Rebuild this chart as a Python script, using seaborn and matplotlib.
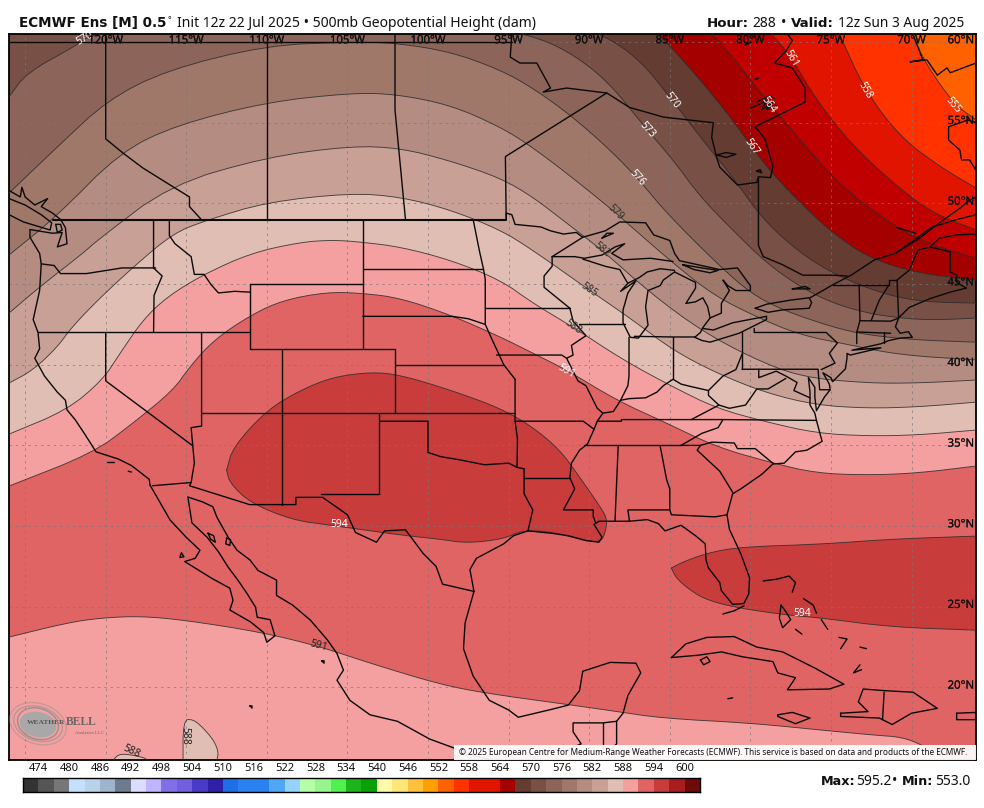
import numpy as np
import matplotlib
matplotlib.use("Agg")
import matplotlib.pyplot as plt
import matplotlib.patheffects as pe
from matplotlib.colors import ListedColormap
from matplotlib.patches import Ellipse, Rectangle
import seaborn as sns

# colour bar: one cell per 3 dam, 471 to 603
bar_levels = list(range(471, 603, 3))
bar_colors = ["#333333", "#555555", "#777777", "#C5E0FF", "#B8D2EC", "#9EB4CC", "#6E7B8C",
              "#DCDCFF", "#BEB4FF", "#8070E8", "#7060DC", "#4A3AC8", "#3020A8",
              "#1E6EE8", "#2882F0", "#3C96F0", "#50A8F5", "#96D2FF",
              "#B4FFA8", "#96F58C", "#50F050", "#1EB41E", "#0AA00A",
              "#FFFAAA", "#FFE678", "#FFC03C", "#FFA000", "#FF6000", "#FF3200", "#E11400", "#C00000", "#A50000",
              "#643C32", "#785046", "#8C645A", "#A07869", "#B48C82", "#C8A096", "#E1BEB4",
              "#F5A0A0", "#E16464", "#C83C3C", "#A81E1E", "#6E0A0A"]
bar_ticks = list(range(474, 606, 6))

lon_591 = [-126, -120.8, -118.3, -115.8, -114.8, -113.3, -111, -109, -106.3, -104.1, -101.7, -98.6, -95.5, -93.5, -91.4, -88.3, -85.2, -82.1, -78.6, -75.9, -72.75, -69.65, -66]
lat_591 = [32.48, 34.52, 36.38, 38.43, 39.86, 41.53, 43.08, 44, 44.5, 44.44, 44.13, 43.08, 41.72, 40.72, 39.67, 37.8, 36.38, 34.9, 33.9, 33.28, 33.16, 33.28, 33.72]
lon_588 = [-126, -122.4, -120.2, -119.1, -117.7, -116.2, -114, -111, -107.9, -105.9, -104.1, -101.7, -98.6, -95.5, -93.5, -91, -87.9, -84.8, -82.1, -79, -75.9, -72.75, -69.65, -66]
lat_588 = [35.7, 37.19, 39.05, 40.72, 42.77, 44.2, 45.56, 46.92, 47.6, 47.73, 47.6, 47.3, 46.49, 45.25, 43.82, 42.33, 40.3, 38.62, 37.3, 36.45, 35.76, 35.58, 35.64, 35.95]
lon_585 = [-126, -124.5, -123, -122.1, -120.5, -118.3, -115.8, -113.7, -110, -104.8, -101.7, -98.6, -95.5, -93.5, -90, -87.3, -84.8, -82.1, -79, -75.9, -72.75, -69.65, -66]
lat_585 = [38.86, 39.67, 41.1, 42.33, 44, 46.05, 48.16, 48.97, 50.08, 50.64, 50.4, 49.6, 48.35, 47.1, 44.63, 42.77, 40.9, 39.48, 38.24, 37.5, 37.3, 37.38, 37.68]
lon_582 = [-126, -124.1, -121.4, -120.5, -116, -110, -104.8, -101.7, -98.6, -95.5, -93.5, -91.4, -89.2, -86.2, -83.1, -80, -76.9, -72.75, -69.65, -66]
lat_582 = [43.2, 44.82, 46.92, 47.73, 51.14, 52.87, 53.56, 53.43, 52.63, 51.57, 50.4, 48.78, 47.1, 44.44, 42.15, 40.47, 39.24, 38.86, 38.86, 39.05]
lon_579 = [-126, -123.1, -119.1, -115.6, -110, -104.8, -102.05, -98.6, -95.5, -93.7, -91.4, -88.4, -87.65, -84.8, -82.3, -79.6, -76.9, -73.8, -70.7, -66]
lat_579 = [46.8, 49.15, 53.18, 54.86, 56.28, 56.84, 56.78, 56.1, 54.73, 53.6, 51.88, 49.46, 48.78, 46.3, 44.32, 42.95, 41.84, 41.22, 40.6, 40.3]
lon_576 = [-126, -123, -119.9, -116.2, -110, -104.8, -102.05, -98.6, -95.5, -93.5, -91.2, -88.9, -87, -85.2, -82.1, -80, -78, -74.9, -72.75, -69.65, -66]
lat_576 = [50.64, 53.5, 56.4, 58.27, 59.8, 60, 59.95, 59.4, 58.27, 57.15, 55.5, 53.5, 51.57, 49.4, 46.3, 44.44, 43.39, 42.33, 41.84, 41.53, 41.4]
lon_573 = [-126, -124.9, -121.8, -121, -115, -105, -98, -93.7, -91.4, -88.9, -86.4, -84.8, -83.1, -81.1, -79, -76.9, -74.9, -72.75, -70.7, -68.7, -66]
lat_573 = [56.6, 58.1, 59.8, 60.44, 61.3, 61.8, 61.3, 60.44, 59.5, 57.65, 54.55, 52.7, 50.4, 48.35, 46.3, 44.82, 43.82, 43.2, 42.89, 42.77, 42.89]
lon_570 = [-92, -89.1, -86.85, -84.85, -83.1, -81.1, -79.2, -76.9, -74.9, -72.75, -70.7, -68.7, -66]
lat_570 = [61.5, 60.44, 58.9, 56.4, 54.1, 51.63, 48.97, 46.92, 45.68, 44.75, 44.13, 43.88, 43.82]
lon_567 = [-87, -85.6, -83.1, -81.1, -79, -76.9, -74.9, -72.6, -69.65, -66]
lat_567 = [61.5, 60.44, 57.65, 55.17, 52.25, 50.02, 48.16, 46.6, 45.68, 45.25]
lon_564 = [-83.5, -82.3, -81.1, -79, -76.9, -74.9, -72.75, -69.65, -66]
lat_564 = [61.5, 60.44, 59.07, 56.4, 53.93, 51.63, 49.77, 47.73, 46.6]
lon_561 = [-79.5, -78.65, -77.55, -75.9, -73.8, -71.15, -68.7, -66]
lat_561 = [61.5, 60.44, 59.2, 56.4, 53.74, 51.26, 49.4, 48.35]
lon_558 = [-75, -74.45, -72.9, -70.7, -68.2, -66]
lat_558 = [61.5, 60.44, 57.03, 54.1, 52.25, 50.95]
lon_555 = [-70.3, -69.9, -69.15, -67.4, -66]
lat_555 = [61.5, 60.44, 58.7, 56.2, 55.17]

# 591 again, south of the ridge
lon_591s = [-126, -122.4, -120.35, -117.9, -115.1, -110.4, -106.8, -103.6, -99.3, -96.5, -91.5, -88.45, -85.5, -79.9, -75.55, -72.3, -70.6, -69.3, -67.9, -67]
lat_591s = [23.12, 24, 24.3, 24.42, 24.17, 23.43, 22.56, 21.5, 20.2, 19.65, 18.96, 18.53, 18.09, 17.78, 17.35, 17.04, 16.92, 16.42, 15.5, 15]

# closed 594 and 588 areas
lon_594w = [-112.5, -112.1, -110, -107.9, -105.9, -103.5, -101.7, -98.6, -95.5, -93.5, -91.8, -90.6, -89.3, -88.85, -89.1, -89.5, -90.6, -92.25, -94.1, -95.35, -97.6, -99.3, -101.7, -106.1, -108.4, -111, -112.3]
lat_594w = [33.47, 34.9, 37.19, 38.43, 39.24, 39.55, 39.36, 38.43, 37.3, 36.14, 34.7, 33.04, 31.18, 30.37, 29.25, 29, 29.19, 29.63, 29.75, 29.19, 28.94, 29.19, 29.44, 30.06, 30.37, 31.42, 32.66]
lon_594e = [-84.9, -84.6, -83.75, -82.7, -80.7, -77.7, -75.55, -71.3, -66, -65, -65, -66, -71.3, -75.55, -80.7, -82.7, -84.2]
lat_594e = [27.4, 26.77, 26.03, 25.41, 24.91, 24.48, 24.3, 23.74, 23.55, 23.5, 29.4, 29.38, 29.19, 28.88, 28.7, 28.32, 27.77]
lon_588a = [-115.2, -115.2, -114.6, -114, -113.3, -113, -113.1, -113.1]
lat_588a = [15, 17.97, 18.03, 17.54, 16.73, 16, 15.5, 15]
lon_588b = [-119.9, -119.55, -119.1, -117.7, -117.4, -117.2]
lat_588b = [15, 15.5, 15.93, 15.68, 15.5, 15]

# contour labels
label_text = ["570", "570", "573", "576", "579", "582", "585", "588", "591", "567", "564", "561", "558", "555", "594", "594", "591", "588", "588"]
label_lon = [-121.3, -84.85, -86.4, -87, -88.4, -89.2, -90, -91, -91.4, -79.9, -78.9, -77.5, -72.9, -67.4, -105.5, -76.8, -106.8, -118.4, -115.1]
label_lat = [60.25, 56.4, 54.55, 51.57, 49.46, 47.1, 44.63, 42.33, 39.6, 53.5, 56.1, 59, 57.03, 56.1, 30.1, 24.55, 22.56, 16, 17]
label_rot = [30, -52, -48, -48, -45, -40, -35, -35, -30, -55, -55, -60, -60, -50, 0, 0, -15, -25, -90]
label_col = ["w", "w", "w", "w", "#333", "#333", "#333", "#333", "w", "w", "w", "w", "w", "w", "w", "w", "#222", "#222", "#222"]

# coasts and borders
west_coast = [(-122.8, 49), (-122.5, 48.5), (-122.4, 47.5), (-123, 47.3), (-122.7, 48.2), (-123.3, 48.15), (-124.7, 48.38), (-124.7, 47.9), (-124.1, 46.9), (-124, 46.25), (-124.1, 44.6), (-124.5, 42.8), (-124.2, 42), (-124.1, 41), (-124.4, 40.4), (-123.8, 39.3), (-123, 38.3), (-122.5, 37.8), (-122.4, 37.2), (-121.9, 36.6), (-121.3, 35.7), (-120.6, 34.6), (-119.2, 34.15), (-118.4, 33.75), (-117.3, 32.9), (-117.25, 32.54)]
baja_pacific = [(-117.25, 32.54), (-116, 30.37), (-115, 29.3), (-114.15, 28.5), (-114.45, 28), (-115.1, 27.8), (-113.4, 26.75), (-112.3, 26.15), (-112.1, 25.4), (-112.3, 24.8), (-111, 24.05), (-110.2, 23.4), (-110, 22.8), (-109.5, 23.2), (-109.8, 24.2), (-110.6, 24.35), (-110.7, 24.97), (-111.25, 25.85), (-111.8, 26.65), (-112.4, 27.45), (-113, 28.4), (-113.7, 29.3), (-114.65, 30.2), (-114.9, 31.8)]
mexico_west = [(-114.9, 31.8), (-114, 31.5), (-113.35, 31.2), (-113.1, 30.55), (-112.4, 29.3), (-111.85, 28.5), (-111.05, 27.9), (-110.55, 27.25), (-109.4, 26.65), (-109.4, 25.7), (-108.4, 25.1), (-107.3, 24.17), (-106.25, 22.95), (-105.65, 22.1), (-105.25, 21.07), (-105.65, 20.45), (-104.85, 19.2), (-103.6, 18.3), (-101.9, 17.9), (-99.9, 16.8), (-98, 16.1), (-96.5, 15.6), (-95, 15.4)]
isla_guarda = [(-113.65, 29.56), (-113.3, 29.4), (-113.2, 29), (-113.5, 29.2), (-113.65, 29.56)]
isla_tiburon = [(-112.5, 29.25), (-112.25, 29.15), (-112.3, 28.8), (-112.55, 28.9), (-112.5, 29.25)]
isla_cedros = [(-115.3, 28.35), (-115.15, 28.1), (-115.4, 28.05), (-115.3, 28.35)]
isla_maria = [(-106.6, 21.65), (-106.45, 21.65), (-106.45, 21.5), (-106.6, 21.65)]
socorro = [(-111.05, 18.85), (-110.92, 18.85), (-110.92, 18.72), (-111.05, 18.85)]
van_island = [(-126, 49.3), (-125.1, 48.85), (-123.45, 48.35), (-123.35, 48.8), (-124, 49.3), (-125, 49.9), (-126, 50.3)]
bc_coast = [(-122.8, 49), (-123.3, 49.4), (-124, 49.8), (-123.6, 50.3), (-124.4, 49.9), (-125, 50.4), (-125.2, 51), (-125.3, 50.4), (-126, 50.8)]
san_juan = [(-123.1, 48.7), (-122.8, 48.7), (-122.7, 48.35), (-123, 48.2), (-123.1, 48.7)]
gulf_coast = [(-97.15, 25.95), (-97.4, 27.3), (-97, 28), (-95.3, 28.9), (-94.7, 29.4), (-93.8, 29.7), (-92.3, 29.55), (-91.3, 29.4), (-90.2, 29.1), (-89.4, 29), (-89.2, 29.3), (-89.7, 30.1), (-89.4, 30.3), (-88.1, 30.3), (-87.5, 30.3), (-86.4, 30.4), (-85.7, 30.15), (-85.3, 29.7), (-84.3, 30.05), (-83.4, 29.4), (-82.8, 28.9), (-82.75, 27.9), (-82.6, 27.4), (-81.9, 26.5), (-81.8, 26), (-81.1, 25.15), (-80.4, 25.2), (-80.1, 25.8), (-80.05, 26.8), (-80.6, 28.3), (-81.3, 29.8), (-81.45, 30.7), (-81.1, 32), (-80.6, 32.3), (-79.3, 33.2), (-78.6, 33.85), (-77.9, 33.9), (-77.2, 34.6), (-76.5, 34.7), (-75.55, 35.25), (-75.9, 36.55), (-76, 37), (-76.3, 37.5), (-76.3, 38.3), (-76.4, 39.2), (-76, 38.6), (-76, 38), (-75.9, 37.15), (-75.4, 38), (-75.05, 38.45), (-75.1, 38.8), (-75.5, 39.5), (-75, 39.2), (-74.9, 38.95), (-74.1, 39.75), (-74, 40.45), (-74, 40.7), (-73.8, 40.6), (-71.9, 41.05), (-73.7, 40.9), (-71.9, 41.3), (-71.4, 41.5), (-70.7, 41.65), (-69.95, 41.7), (-70.2, 42.05), (-70.7, 41.95), (-71, 42.35), (-70.8, 42.9), (-70.15, 43.55), (-68.85, 44.1), (-67.6, 44.5), (-66.6, 44.75)]
mexico_east = [(-97.15, 25.95), (-97.7, 24), (-97.8, 22.4), (-97.2, 20.7), (-96.2, 19.2), (-95, 18.6), (-94.4, 18.15), (-92.5, 18.6), (-91.3, 18.9), (-90.6, 19.8), (-90.4, 21), (-88.7, 21.55), (-87.1, 21.5), (-86.8, 20.9), (-87.6, 19.5), (-87.9, 18.4), (-88.3, 17.9), (-88.3, 16.5), (-88.9, 15.9)]
guatemala = [(-88.3, 17.9), (-89.15, 17.8), (-91, 17.8), (-91, 17.25), (-90.5, 16.5), (-91.7, 16)]
guatemala_e = [(-89.15, 17.8), (-89.15, 15.9)]
cuba = [(-84.9, 21.85), (-84, 22.7), (-82.7, 23.1), (-81, 23.15), (-79.6, 22.5), (-78, 22.2), (-76, 21.2), (-74.2, 20.2), (-75.1, 19.9), (-77.7, 19.85), (-77.2, 20.6), (-78.3, 20.9), (-78.6, 21.6), (-80.5, 21.9), (-81.8, 22.2), (-83.2, 22), (-84.9, 21.85)]
isle_youth = [(-83.1, 21.7), (-82.7, 21.9), (-82.5, 21.6), (-82.9, 21.4), (-83.1, 21.7)]
jamaica = [(-78.3, 18.3), (-77.4, 18.45), (-76.3, 18.1), (-77.2, 17.75), (-78.3, 18.2), (-78.3, 18.3)]
hispaniola = [(-74.4, 18.4), (-72.7, 18.5), (-73.3, 19.1), (-73, 19.9), (-71.7, 19.8), (-69.9, 19.7), (-68.4, 18.7), (-70, 18.4), (-71.2, 17.7), (-72, 18.1), (-74.4, 18.2), (-74.4, 18.4)]
haiti_dr = [(-71.7, 19.7), (-71.8, 18)]
puerto_rico = [(-67.2, 18.4), (-66, 18.45), (-66, 18), (-67.2, 18), (-67.2, 18.4)]
bahamas_a = [(-79.2, 26.6), (-78.4, 26.7), (-77.6, 26.9), (-77.2, 26.5), (-77.4, 25.9)]
bahamas_b = [(-78.1, 25.1), (-77.8, 24.7), (-77.5, 24.2), (-78, 23.7), (-78.2, 24.3), (-78.1, 25.1)]
bahamas_c = [(-76.7, 25.5), (-76.1, 25.1), (-75.9, 24.6)]
bahamas_d = [(-75.6, 24.2), (-75.2, 23.6)]
bahamas_e = [(-74.5, 23.1), (-74, 23), (-74.4, 22.4)]
bahamas_f = [(-73.2, 22.5), (-72.8, 22.4)]
bahamas_g = [(-73.1, 21.1), (-73.6, 20.9), (-73.2, 21.4)]
bahamas_h = [(-77.2, 23.6), (-76.8, 23.3)]
cayman = [(-81.4, 19.3), (-81.1, 19.35)]
keys = [(-81.7, 24.55), (-81, 24.75), (-80.4, 25.05)]
lake_superior_n = [(-92.3, 46.7), (-90.4, 47.9), (-89, 48.3), (-88.1, 48.85), (-86.5, 48.8), (-86, 48.05), (-85, 47.7), (-84.7, 46.9), (-84.4, 46.45), (-81.9, 45.9), (-80.8, 46), (-80, 44.9), (-80, 44.6), (-80.9, 44.6), (-81.4, 44.9), (-81.7, 45.25), (-81.3, 44.6), (-81.8, 43.8), (-81.8, 43.2), (-82.5, 42.9), (-82.95, 42.3), (-83.1, 42), (-83.45, 41.7)]
lake_superior_s = [(-92.3, 46.7), (-90.9, 46.7), (-90.3, 46.6), (-89.2, 46.8), (-88.4, 47.3), (-87.8, 47.5), (-88.6, 46.9), (-87.9, 46.5), (-86.2, 46.6), (-84.8, 46.4)]
isle_royale = [(-89.2, 47.85), (-88.5, 48.15), (-88.9, 48.15), (-89.2, 47.85)]
manitoulin = [(-84.2, 46.2), (-83, 46), (-82, 45.85), (-82.5, 45.7), (-83.5, 45.9), (-84.2, 46.2)]
lake_michigan = [(-84.7, 45.85), (-85.6, 45.95), (-86.4, 45.75), (-86.9, 45.4), (-87.6, 45.05), (-88.05, 44.55), (-87.1, 45.2), (-87.6, 44.45), (-87.9, 43.4), (-87.9, 42.6), (-87.45, 41.7), (-86.95, 41.65), (-86.35, 42.45), (-86.5, 43.6), (-86.35, 44.6), (-85.6, 44.9), (-85.4, 45.25), (-84.7, 45.75)]
michigan_huron = [(-84.7, 45.75), (-83.4, 45.1), (-83.4, 44.75), (-84, 43.8), (-83.4, 43.9), (-82.95, 44.15), (-82.65, 43.6), (-82.5, 42.9)]
erie_south = [(-83.45, 41.7), (-83, 41.5), (-82.5, 41.4), (-80.7, 41.95), (-79, 42.8), (-79, 43)]
erie_north = [(-79, 43), (-79.8, 42.85), (-81.1, 42.6), (-82.3, 42.15), (-82.95, 42.25)]
lake_ontario = [(-79.7, 43.5), (-79, 43.75), (-77.55, 44), (-76.35, 44.15), (-76.2, 43.85), (-76.35, 43.5), (-78, 43.4), (-78.9, 43.25), (-79.7, 43.5)]
st_lawrence_w = [(-76.3, 44.15), (-75.5, 44.6), (-74.9, 44.95), (-73.75, 45.55), (-72.3, 46.5), (-71, 46.9)]
st_lawrence_n = [(-71, 46.9), (-69.5, 47.85), (-68.2, 48.85), (-67, 49.7), (-66.4, 50.2), (-66, 50.4)]
st_lawrence_s = [(-71, 46.9), (-69.8, 47.75), (-68.8, 48.5), (-67.2, 49), (-66, 49.3)]
saguenay = [(-70.9, 48.5), (-69.75, 48.15)]
quebec_east = [(-66, 48.1), (-67.2, 48.05), (-68.25, 47.85), (-68.85, 47.3), (-67.6, 47), (-67.6, 45.75), (-67.2, 45.55), (-67.2, 45.1), (-66.6, 44.75)]
maine_west = [(-68.85, 47.3), (-69.6, 47.1), (-70.15, 45.85), (-70.9, 45.25), (-70.8, 42.9)]
nipissing = [(-77.4, 44.7), (-76.6, 44.85), (-76.3, 44.7), (-77.4, 44.7)]
hudson_bay = [(-94.8, 60.5), (-94.9, 59.07), (-94.3, 58.7), (-93.25, 58.7), (-92.4, 57.15), (-92.85, 56.9), (-91.4, 57.15), (-88.9, 56.84), (-87.5, 55.95), (-85.4, 55.35), (-82.3, 55), (-82.4, 54.1), (-82.1, 52.87), (-81.9, 52.25), (-80.8, 51.14), (-79.6, 51.3), (-79.5, 51.65), (-78.75, 51.6), (-78.6, 52.3), (-79.1, 54), (-79.7, 54.75), (-76.6, 56.28), (-76.6, 57.15), (-77.4, 58.4), (-78.5, 58.7), (-77.75, 59.5), (-77.4, 60.1), (-77.7, 60.5)]
akimiski = [(-82.1, 53), (-81.5, 53.15), (-80.9, 53.05), (-81.5, 52.85), (-82.1, 53)]
charlton = [(-79.6, 52), (-79.4, 52.1), (-79.3, 51.9), (-79.6, 52)]
ungava = [(-69.9, 60.44), (-69.3, 58.9), (-70.1, 58.77), (-69.05, 58.9), (-68.4, 57.95), (-67.8, 58.4), (-67.6, 58.1), (-66, 58.7)]
ungava_b = [(-67.7, 54.75), (-66.5, 55.17), (-66, 55)]
ungava_c = [(-67.7, 54.75), (-67.7, 53.93), (-67, 53.3), (-66.9, 52.7), (-66.4, 52.7), (-66, 52.05)]
belcher_a = [(-80, 55.9), (-79, 56.35), (-79.3, 55.8), (-78.6, 56.3), (-79, 55.85), (-78.4, 56.1)]
belcher_b = [(-79.6, 56.3), (-78.8, 56.65), (-78.5, 56.5)]
belcher_c = [(-80.35, 59.8), (-79.95, 60)]
belcher_d = [(-79.7, 57.7), (-79.5, 57.75)]
channel_is = [(-119.9, 34), (-119.5, 34)]
channel_isb = [(-118.6, 33.4), (-118.4, 33.35)]
bc_ab = [(-120, 60.5), (-120, 54), (-118.9, 53.1), (-117.7, 52.2), (-116, 51.14), (-114.8, 50.4), (-114.8, 49.8), (-114.07, 49)]
ab_sk = [(-110, 60.5), (-110, 49)]
sk_mb = [(-102.05, 60.5), (-102.05, 55.8), (-101.4, 49)]
mb_on = [(-95.15, 49), (-95.2, 52.9), (-88.9, 56.85)]
on_qc = [(-79.5, 51.6), (-79.5, 47.4), (-79.2, 46.7), (-78, 46.2), (-76.75, 45.55), (-74.9, 45.55), (-74, 45.5)]
parallel_60 = [(-126, 60), (-94.8, 60)]
on_mn = [(-95.15, 49), (-95.15, 49.4), (-94.8, 49.3), (-94.6, 48.7), (-93, 48.54), (-92.4, 48.3), (-91.6, 48.1), (-90.8, 48.2), (-90.4, 47.9)]
border_49 = [(-123.3, 49), (-95.15, 49)]
wa_or = [(-124, 46.25), (-123.2, 46.15), (-122.8, 45.65), (-121.2, 45.65), (-119.3, 45.95), (-119, 46), (-116.9, 46)]
wa_id = [(-117.03, 49), (-117.03, 46), (-116.5, 45.5), (-117, 44.3), (-117.03, 42)]
p_42 = [(-124.2, 42), (-111.05, 42)]
nv_ca = [(-120, 42), (-120, 39), (-114.63, 35)]
nv_ut = [(-114.05, 42), (-114.05, 36.2), (-114.7, 36.1), (-114.6, 35), (-114.5, 33.9), (-114.7, 32.7)]
ca_mx = [(-117.1, 32.5), (-114.7, 32.7), (-114.8, 32.5), (-111.07, 31.33), (-108.2, 31.33), (-108.2, 31.78), (-106.5, 31.78)]
rio_grande = [(-106.5, 31.75), (-105, 30.7), (-104.5, 29.6), (-103.2, 29), (-102.7, 29.7), (-101.4, 29.77), (-100.3, 28.3), (-99.5, 27.5), (-99.1, 26.4), (-97.15, 25.95)]
ut_ne = [(-111.05, 41), (-102.05, 41)]
p_37 = [(-114.05, 37), (-94.6, 37)]
az_nm = [(-109.05, 41), (-109.05, 31.33)]
ut_id = [(-111.05, 45), (-111.05, 41)]
id_mt = [(-116.05, 49), (-116.05, 48), (-115.7, 47.5), (-114.7, 46.7), (-114.5, 45.6), (-113.9, 45.6), (-113.45, 44.95), (-113, 44.45), (-112, 44.55), (-111.05, 44.5)]
p_45 = [(-111.05, 45), (-104.05, 45)]
wy_east = [(-104.05, 49), (-104.05, 41)]
nd_sd = [(-104.05, 45.94), (-96.56, 45.94)]
sd_ne = [(-104.05, 43), (-98.5, 43), (-97.5, 42.85), (-96.45, 42.5)]
ne_ks = [(-102.05, 40), (-95.3, 40)]
co_east = [(-102.05, 41), (-102.05, 37)]
ks_mo = [(-94.6, 39.1), (-94.6, 36.5), (-90.37, 36.5), (-89.7, 36)]
missouri_r = [(-96.45, 42.5), (-96, 41.5), (-95.3, 40), (-94.6, 39.1)]
red_r_n = [(-97.2, 49), (-96.8, 47), (-96.56, 45.94), (-96.45, 45.3), (-96.45, 42.5)]
mn_ia = [(-96.45, 43.5), (-91.2, 43.5)]
ia_mo = [(-95.75, 40.6), (-91.7, 40.6), (-91.4, 40.4)]
mn_wi = [(-92.3, 46.7), (-92.3, 46.1), (-92.8, 45.5), (-92.8, 44.8), (-91.2, 43.5)]
wi_mi = [(-90.4, 46.55), (-89, 46.1), (-88.1, 45.9), (-87.7, 45.2), (-87.6, 45.05)]
mississippi_r = [(-91.2, 43.5), (-91, 42.7), (-90.2, 41.8), (-91.1, 41.2), (-91, 40.6), (-91.4, 40.4), (-90.7, 39), (-90.2, 38.7), (-89.5, 37.3), (-89.15, 37), (-89.5, 36.5), (-89.7, 36), (-90.1, 35.1), (-90.6, 34.7), (-91.1, 33.9), (-91.2, 33), (-90.9, 32.3), (-91.6, 31), (-89.75, 31), (-89.75, 30.6), (-89.6, 30.2)]
ar_ok = [(-94.6, 36.5), (-94.45, 35.4), (-94.48, 33.64)]
ar_la = [(-94.04, 33), (-91.2, 33)]
tx_la = [(-94.04, 33.55), (-94.04, 32), (-93.5, 31), (-93.8, 29.7)]
tx_pan = [(-103, 36.5), (-100, 36.5), (-100, 34.56), (-99.2, 34.3), (-98, 34.1), (-96.5, 33.8), (-95, 33.9), (-94.48, 33.64), (-94.04, 33.55)]
tx_nm = [(-103.04, 37), (-103.04, 32), (-106.62, 32)]
wi_il = [(-90.65, 42.5), (-87.8, 42.5)]
il_in = [(-87.53, 41.7), (-87.53, 39.3), (-87.6, 38.7), (-88.05, 37.8)]
ohio_r = [(-89.15, 37), (-88.5, 37.1), (-88.05, 37.8), (-87.5, 37.9), (-86.5, 37.95), (-85.8, 38.3), (-85.4, 38.7), (-84.8, 39.1), (-84.3, 38.8), (-83.7, 38.65), (-82.6, 38.4), (-82, 39), (-81.7, 39.3), (-80.9, 39.7), (-80.52, 40.64)]
in_oh = [(-84.8, 39.1), (-84.8, 41.7)]
in_mi = [(-87.2, 41.76), (-84.8, 41.72), (-83.45, 41.72)]
oh_pa = [(-80.52, 40.64), (-80.52, 42)]
pa_ny = [(-79.76, 42.25), (-79.76, 42), (-75.3, 42), (-74.6, 41.35), (-75.1, 40.7), (-74.75, 40.1), (-75.6, 39.7)]
pa_md = [(-80.52, 39.72), (-75.8, 39.72), (-75.7, 38.45), (-75.05, 38.45)]
wv_pa = [(-80.52, 40.64), (-80.52, 39.72)]
wv_md = [(-79.48, 39.72), (-79.48, 39.2), (-78.4, 39.6), (-77.8, 39.3), (-77.1, 38.9), (-77.3, 38.4), (-76.3, 37.95)]
va_wv = [(-77.8, 39.15), (-78.9, 38.5), (-79.6, 38.5), (-80.3, 37.5), (-81.3, 37.3), (-81.95, 37.5), (-82.6, 38.1), (-82.6, 38.4)]
ky_va = [(-81.95, 37.5), (-83.67, 36.6)]
va_nc = [(-75.9, 36.55), (-81.7, 36.6), (-83.67, 36.6), (-88, 36.6), (-88, 36.5), (-89.5, 36.5)]
tn_south = [(-90.3, 35), (-84.3, 35)]
tn_nc = [(-81.7, 36.6), (-82, 36.1), (-83, 35.75), (-84.3, 35)]
nc_sc = [(-84.3, 35), (-83.1, 35), (-82.4, 35.2), (-81, 35.15), (-80.8, 34.8), (-79.7, 34.8), (-78.55, 33.85)]
ga_sc = [(-83.1, 35), (-83.3, 34.7), (-81.9, 33.4), (-81.1, 32.1)]
ga_al = [(-85.6, 34.98), (-85.2, 32.9), (-85, 32.3), (-85, 31), (-84.9, 30.7), (-82.2, 30.57), (-81.45, 30.7)]
fl_al = [(-87.5, 30.3), (-87.6, 31), (-85, 31)]
al_ms = [(-88.2, 35), (-88.4, 30.3)]
p_45_ne = [(-74.9, 44.95), (-71.4, 44.95), (-71.4, 45.25), (-70.9, 45.25)]
vt_nh = [(-71.4, 44.95), (-72, 44), (-72.5, 42.75)]
ny_ne = [(-73.25, 44.95), (-73.2, 42.75), (-73.4, 42), (-73.4, 41.3)]
ma_n = [(-73.2, 42.73), (-71.3, 42.7), (-70.85, 42.87)]
ma_s = [(-73.4, 42.03), (-71.3, 41.95)]
ct_ri = [(-71.7, 42), (-71.7, 41.35)]

thick_lines = [border_49]
map_lines = [west_coast, baja_pacific, mexico_west, isla_guarda, isla_tiburon, isla_cedros, isla_maria, socorro, van_island, bc_coast,
             san_juan, gulf_coast, mexico_east, guatemala, guatemala_e, cuba, isle_youth, jamaica,
             hispaniola, haiti_dr, puerto_rico, bahamas_a, bahamas_b, bahamas_c, bahamas_d, bahamas_e, bahamas_f,
             bahamas_g, bahamas_h, cayman, keys, lake_superior_n, lake_superior_s, isle_royale, manitoulin, lake_michigan,
             michigan_huron, erie_south, erie_north, lake_ontario, st_lawrence_w, st_lawrence_n, st_lawrence_s, saguenay,
             quebec_east, maine_west, nipissing, hudson_bay, akimiski, charlton, ungava, ungava_b, ungava_c,
             belcher_a, belcher_b, belcher_c, belcher_d, channel_is, channel_isb, bc_ab, ab_sk, sk_mb, mb_on, on_qc, parallel_60, on_mn,
             wa_or, wa_id, p_42, nv_ca, nv_ut, ca_mx, rio_grande, ut_ne, p_37, az_nm, ut_id, id_mt, p_45, wy_east,
             nd_sd, sd_ne, ne_ks, co_east, ks_mo, missouri_r, red_r_n, mn_ia, ia_mo, mn_wi, wi_mi, mississippi_r, ar_ok, ar_la,
             tx_la, tx_pan, tx_nm, wi_il, il_in, ohio_r, in_oh, in_mi, oh_pa, pa_ny, pa_md, wv_pa, wv_md, va_wv, ky_va,
             va_nc, tn_south, tn_nc, nc_sc, ga_sc, ga_al, fl_al, al_ms, p_45_ne, vt_nh, ny_ne, ma_n, ma_s, ct_ri]

FONT = "Noto Sans"
BOLD = "DejaVu Sans"


def smooth(lons, lats, passes=2):
    # corner cutting, only so the contours do not look faceted
    pts = np.column_stack([lons, lats])
    for _ in range(passes):
        q = 0.75 * pts[:-1] + 0.25 * pts[1:]
        r = 0.25 * pts[:-1] + 0.75 * pts[1:]
        mid = np.empty((2 * len(q), 2))
        mid[0::2] = q
        mid[1::2] = r
        pts = np.vstack([pts[0], mid, pts[-1]])
    return pts[:, 0], pts[:, 1]


def draw_contour(ax, xs, ys):
    sns.lineplot(x=xs, y=ys, ax=ax, sort=False, estimator=None, color="#2b2b2b", linewidth=0.65, alpha=0.85, zorder=3)


def head_text(x_px, y_px, s, bold=False, size=10):
    # x and y in image pixels, on the text baseline
    fig.text(x_px / 984, 1 - y_px / 808, s, fontsize=size, fontweight="bold" if bold else "normal",
             family=BOLD if bold else FONT, color="#111", va="baseline", ha="left")


sns.set_theme(style="white")
plt.rcParams["font.family"] = [FONT, "DejaVu Sans"]

fig = plt.figure(figsize=(9.84, 8.08), dpi=100)
ax = fig.add_axes([9 / 984, (808 - 760) / 808, 967 / 984, 726 / 808])
ax.set_facecolor("#E16464")

# bands north of the ridge, painted south to north
north = [(lon_591, lat_591, "#F5A0A0"), (lon_588, lat_588, "#E1BEB4"), (lon_585, lat_585, "#C8A096"),
         (lon_582, lat_582, "#B48C82"), (lon_579, lat_579, "#A07869"), (lon_576, lat_576, "#8C645A"),
         (lon_573, lat_573, "#785046"), (lon_570, lat_570, "#643C32"), (lon_567, lat_567, "#A50000"),
         (lon_564, lat_564, "#C00000"), (lon_561, lat_561, "#E11400"), (lon_558, lat_558, "#FF3200"),
         (lon_555, lat_555, "#FF6000")]
for xs, ys, col in north:
    sx, sy = smooth(xs, ys)
    ax.fill(list(sx) + [-65, -65, sx[0] - 1, sx[0] - 1], list(sy) + [sy[-1], 63, 63, sy[0]], color=col, lw=0, zorder=1)
    draw_contour(ax, sx, sy)

# south of the ridge
sx, sy = smooth(lon_591s, lat_591s)
ax.fill(list(sx) + [-65, -65, -127, -127], list(sy) + [sy[-1], 14, 14, sy[0]], color="#F5A0A0", lw=0, zorder=1)
draw_contour(ax, sx, sy)

for xs, ys, col in [(lon_594w, lat_594w, "#C83C3C"), (lon_594e, lat_594e, "#C83C3C")]:
    sx, sy = smooth(xs + xs[:1], ys + ys[:1])
    ax.fill(sx, sy, color=col, lw=0, zorder=1)
    draw_contour(ax, sx, sy)
for xs, ys in [(lon_588a, lat_588a), (lon_588b, lat_588b)]:
    sx, sy = smooth(xs, ys)
    ax.fill(sx, sy, color="#E1BEB4", lw=0, zorder=1)
    draw_contour(ax, sx, sy)

# graticule
for lon in range(-125, -65, 5):
    ax.axvline(lon, color="#777777", lw=0.7, ls=(0, (2.5, 4)), alpha=0.7, zorder=2)
for lat in range(20, 61, 5):
    ax.axhline(lat, color="#777777", lw=0.7, ls=(0, (2.5, 4)), alpha=0.7, zorder=2)

for line in map_lines:
    ax.plot(*zip(*line), color="#0a0a0a", lw=1.0, zorder=4, solid_joinstyle="round")
for line in thick_lines:
    ax.plot(*zip(*line), color="#0a0a0a", lw=1.5, zorder=4)

for s, x, y, r, c in zip(label_text, label_lon, label_lat, label_rot, label_col):
    ax.text(x, y, s, color=c, fontsize=7.5, rotation=r, ha="center", va="center", rotation_mode="anchor", zorder=5)

stroke = [pe.withStroke(linewidth=0.15, foreground="#111111")]
for lon in range(-120, -65, 5):
    ax.text(lon, 60.08, f"{-lon}°W", fontsize=8.2, ha="center", va="center", color="#111", zorder=6, path_effects=stroke)
for lat in range(20, 61, 5):
    ax.text(-66.12, lat + 0.08, f"{lat}°N", fontsize=8.2, ha="right", va="center", color="#111", zorder=6, path_effects=stroke)

ax.set_xlim(-126, -66)
ax.set_ylim(15.5, 60.5)
ax.set_xlabel("")
ax.set_ylabel("")
ax.set_xticks([])
ax.set_yticks([])
for sp in ax.spines.values():
    sp.set_visible(True)
    sp.set_color("black")
    sp.set_linewidth(1.3)

# logo, bottom left
logo_lon, logo_lat = -124.2, 17.75
for w, h, a in [(2.6, 1.9, 0.9), (3.1, 2.1, 0.6), (3.6, 2.5, 0.45)]:
    ax.add_patch(Ellipse((logo_lon, logo_lat), w, h, angle=-18, fill=False, ec="#8f8f8f", lw=1.0, alpha=a, zorder=5))
ax.add_patch(Ellipse((logo_lon, logo_lat - 0.05), 2.3, 1.55, angle=-12, fc="#a8a8a8", ec="none", zorder=5))
ax.text(-124.9, 17.8, "WEATHER", family="Liberation Serif", fontsize=5.4, fontweight="bold", color="#555555", va="center", zorder=6)
ax.text(-122.5, 17.83, "BELL", family="Liberation Serif", fontsize=8.4, fontweight="bold", color="#666666", va="center", zorder=6)
ax.text(-121.9, 17.2, "Analytics LLC", family="Liberation Serif", fontsize=3.5, color="#666666", va="center", zorder=6)

# copyright strip
ax.add_patch(Rectangle((-98.4, 15.5), 32.4, 0.92, fc="white", ec="none", alpha=0.92, zorder=6))
ax.text(-98.1, 15.95, "© 2025 European Centre for Medium-Range Weather Forecasts (ECMWF). This service is based on data and products of the ECMWF.",
        fontsize=5.95, va="center", ha="left", color="#111", zorder=7)

# colour bar
cax = fig.add_axes([23 / 984, (808 - 792) / 808, 677 / 984, 14 / 808])
sns.heatmap(np.array([bar_levels]), ax=cax, cmap=ListedColormap(bar_colors), cbar=False, xticklabels=False, yticklabels=False, vmin=471, vmax=603)
for sp in cax.spines.values():
    sp.set_visible(True)
    sp.set_color("black")
    sp.set_linewidth(1.0)
for v in bar_ticks:
    cax.text((v - 471) / 3, -0.32, str(v), fontsize=8, ha="center", va="bottom", color="#111", clip_on=False)

head_text(19, 27, "ECMWF Ens [M] 0.5", bold=True, size=9.75)
head_text(167, 23, "°", size=6)
head_text(177, 27, "Init 12z 22 Jul 2025 • 500mb Geopotential Height (dam)", size=10.05)
head_text(707, 27, "Hour:", bold=True, size=9.6)
head_text(752, 27, "288")
head_text(781, 27, "•")
head_text(791, 27, "Valid:", bold=True, size=9.6)
head_text(838, 27, "12z Sun 3 Aug 2025", size=9.95)
head_text(821, 785, "Max:", bold=True, size=9.2)
head_text(856, 785, "595.2")
head_text(892, 785, "•")
head_text(902, 785, "Min:", bold=True, size=9.2)
head_text(935, 785, "553.0")

fig.savefig("out.png", dpi=100)
